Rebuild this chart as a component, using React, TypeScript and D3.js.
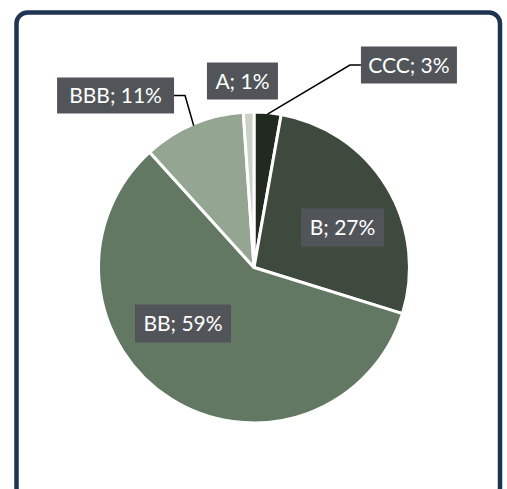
import React from "react";
import * as d3 from "d3";

// Data (clockwise from 12 o'clock)
const categories = ["CCC", "B", "BB", "BBB", "A"];
const values = [2.8, 27.0, 58.5, 10.6, 1.1];
const labelTexts = ["CCC; 3%", "B; 27%", "BB; 59%", "BBB; 11%", "A; 1%"];
const colors = ["#222921", "#3e4a3d", "#637862", "#94a692", "#c8d2c5"];

// Label layout: box centre offsets relative to pie centre (in radius units), box size, leader flag
const labelDx = [1.006, 0.575, -0.461, -0.899, -0.075];
const labelDy = [-1.315, -0.26, 0.364, -1.117, -1.211];
const labelW = [96, 83, 96, 117, 71];
const labelH = [37, 38, 38, 36, 37];
const hasLeader = [true, false, false, true, false];

const W = 507;
const H = 489;
const cx = 254;
const cy = 267.5;
const R = 155.5;

export default function App() {
  const pie = d3
    .pie<number>()
    .sort(null)
    .value((d) => d)
    .startAngle(0)
    .endAngle(2 * Math.PI);
  const arcs = pie(values);
  const arcGen = d3.arc<d3.PieArcDatum<number>>().innerRadius(0).outerRadius(R);

  return (
    <svg
      width={W}
      height={H}
      style={{ position: "absolute", left: 0, top: 0, background: "#fff" }}
      fontFamily="Lato, 'Noto Sans', sans-serif"
    >
      <rect
        x={16.5}
        y={12.5}
        width={483.5}
        height={486}
        rx={11}
        ry={11}
        fill="#fff"
        stroke="#1e3450"
        strokeWidth={4.5}
      />
      <g transform={`translate(${cx},${cy})`}>
        {arcs.map((a, i) => (
          <path
            key={categories[i]}
            d={arcGen(a) || ""}
            fill={colors[i]}
            stroke="#fff"
            strokeWidth={3}
            strokeLinejoin="round"
          />
        ))}
        {arcs.map((a, i) => {
          const bx = labelDx[i] * (R - 1.5);
          const by = labelDy[i] * (R - 1.5);
          const w = labelW[i];
          const h = labelH[i];
          let leader = null;
          if (hasLeader[i]) {
            const mid = (a.startAngle + a.endAngle) / 2;
            const r0 = R - 1.5;
            const px = Math.sin(mid) * r0;
            const py = -Math.cos(mid) * r0;
            const side = bx > 0 ? -1 : 1;
            const ex = bx + (side * w) / 2;
            const elbowX = ex + side * 11;
            leader = (
              <polyline
                points={`${px},${py} ${elbowX},${by} ${ex},${by}`}
                fill="none"
                stroke="#000"
                strokeWidth={1.5}
              />
            );
          }
          return (
            <g key={"lbl" + i}>
              {leader}
              <rect x={bx - w / 2} y={by - h / 2} width={w} height={h} fill="#515559" />
              <text
                x={bx}
                y={by}
                dy="0.36em"
                textAnchor="middle"
                fill="#fff"
                fontSize={21}
              >
                {labelTexts[i]}
              </text>
            </g>
          );
        })}
      </g>
    </svg>
  );
}
